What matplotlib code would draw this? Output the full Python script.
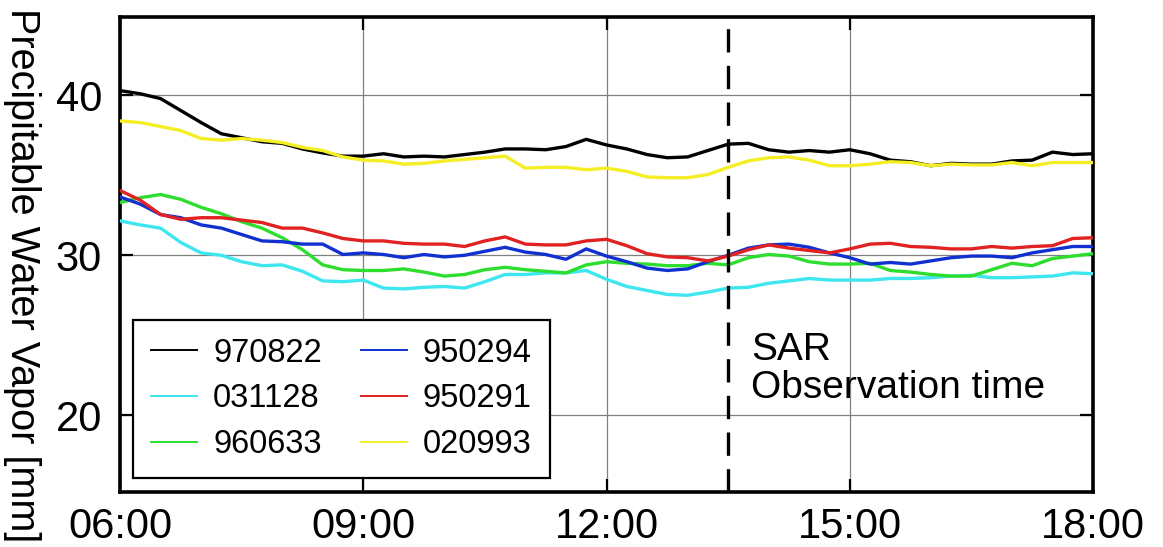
import numpy as np
import matplotlib
matplotlib.use('Agg')
import matplotlib.pyplot as plt

plt.rcParams['font.family'] = ['Liberation Sans', 'DejaVu Sans']

# time axis: 06:00 .. 18:00 every 15 minutes (hours)
hours = np.arange(6.0, 18.01, 0.25)

pwv_970822 = [40.3, 40.1, 39.8, 39.05, 38.3, 37.6, 37.35, 37.1, 37.0, 36.65, 36.4, 36.2, 36.2,
              36.35, 36.15, 36.2, 36.15, 36.3, 36.45, 36.65, 36.65, 36.6, 36.8, 37.25, 36.9,
              36.65, 36.3, 36.1, 36.15, 36.55, 36.95, 37.0, 36.6, 36.45, 36.55, 36.45, 36.6,
              36.35, 35.95, 35.85, 35.6, 35.75, 35.7, 35.7, 35.9, 35.95, 36.45, 36.3, 36.35]
pwv_031128 = [32.15, 31.9, 31.7, 30.8, 30.15, 30.0, 29.6, 29.35, 29.4, 29.0, 28.4, 28.35, 28.45,
              27.95, 27.9, 28.0, 28.05, 27.95, 28.35, 28.8, 28.8, 28.9, 28.9, 29.05, 28.5,
              28.05, 27.8, 27.55, 27.5, 27.7, 27.95, 28.0, 28.25, 28.4, 28.55, 28.45, 28.45,
              28.45, 28.55, 28.55, 28.6, 28.7, 28.75, 28.6, 28.6, 28.65, 28.7, 28.9, 28.85]
pwv_960633 = [33.3, 33.6, 33.8, 33.5, 33.0, 32.6, 32.1, 31.7, 31.1, 30.35, 29.4, 29.1, 29.05,
              29.05, 29.15, 28.95, 28.7, 28.8, 29.1, 29.25, 29.1, 29.0, 28.9, 29.4, 29.6,
              29.5, 29.45, 29.35, 29.35, 29.5, 29.4, 29.85, 30.05, 29.95, 29.6, 29.45, 29.45,
              29.5, 29.05, 28.95, 28.8, 28.7, 28.7, 29.1, 29.5, 29.35, 29.8, 29.95, 30.1]
pwv_950294 = [33.65, 33.2, 32.55, 32.35, 31.9, 31.7, 31.3, 30.9, 30.85, 30.7, 30.7, 30.05, 30.15,
              30.05, 29.85, 30.05, 29.9, 30.0, 30.25, 30.5, 30.2, 30.05, 29.75, 30.4, 29.95,
              29.6, 29.2, 29.05, 29.15, 29.6, 30.0, 30.45, 30.65, 30.7, 30.5, 30.15, 29.85,
              29.45, 29.55, 29.45, 29.65, 29.85, 29.95, 29.95, 29.85, 30.15, 30.35, 30.55, 30.55]
pwv_950291 = [34.05, 33.45, 32.55, 32.25, 32.35, 32.35, 32.2, 32.05, 31.7, 31.7, 31.4, 31.05, 30.9,
              30.9, 30.75, 30.7, 30.7, 30.55, 30.9, 31.15, 30.7, 30.65, 30.65, 30.9, 31.0,
              30.6, 30.1, 29.9, 29.85, 29.65, 29.95, 30.35, 30.65, 30.45, 30.3, 30.15, 30.4,
              30.7, 30.75, 30.55, 30.5, 30.4, 30.4, 30.55, 30.45, 30.55, 30.6, 31.05, 31.1]
pwv_020993 = [38.4, 38.3, 38.05, 37.8, 37.3, 37.2, 37.3, 37.2, 37.05, 36.75, 36.55, 36.15, 35.95,
              35.9, 35.7, 35.75, 35.9, 36.0, 36.1, 36.2, 35.45, 35.5, 35.5, 35.35, 35.45,
              35.25, 34.9, 34.85, 34.85, 35.05, 35.5, 35.9, 36.1, 36.15, 35.95, 35.6, 35.6,
              35.7, 35.85, 35.8, 35.6, 35.7, 35.65, 35.65, 35.8, 35.6, 35.8, 35.8, 35.8]

# legend fills column-wise: left column first
stations = ['970822', '031128', '960633', '950294', '950291', '020993']
series = [pwv_970822, pwv_031128, pwv_960633, pwv_950294, pwv_950291, pwv_020993]
colors = ['#000000', '#3ee6f0', '#2ede2e', '#1030d0', '#e02222', '#f5ee25']

sar_time = 13.5
xtick_hours = [6, 9, 12, 15, 18]
xtick_labels = ['06:00', '09:00', '12:00', '15:00', '18:00']
ytick_vals = [20, 30, 40]

fig = plt.figure(figsize=(11.63, 5.47), dpi=100)
ax = fig.add_axes([120 / 1163, 55 / 547, 973 / 1163, 475 / 547])

for name, vals, c in zip(stations, series, colors):
    ax.plot(hours, vals, color=c, lw=2.4, label=name, zorder=3)

ax.axvline(sar_time, color='black', lw=2.4, dashes=(7, 4), zorder=4)
ax.text(sar_time + 0.28, 22.9, 'SAR\nObservation time', fontsize=28,
        va='center', ha='left', linespacing=1.05)

ax.set_xlim(6, 18)
ax.set_ylim(15.2, 44.9)
ax.set_xticks(xtick_hours)
ax.set_xticklabels(xtick_labels)
ax.set_yticks(ytick_vals)
ax.grid(True, color='#808080', lw=0.9, zorder=1)

ax.tick_params(direction='in', length=9.5, width=1.6, top=True, right=True,
               labelsize=30)
ax.tick_params(axis='x', pad=11)
ax.tick_params(axis='y', pad=13)
for sp in ax.spines.values():
    sp.set_linewidth(2.6)

fig.text(22 / 1163, 0.497, 'Precipitable Water Vapor [mm]', rotation=270,
         fontsize=28.5, ha='center', va='center')

leg = ax.legend(ncol=2, loc='lower left', bbox_to_anchor=(0.0134, 0.0295),
                borderaxespad=0, fontsize=23.5, fancybox=False, edgecolor='black',
                framealpha=1, handlelength=1.4, handletextpad=0.5,
                columnspacing=1.2, labelspacing=0.45, borderpad=0.55)
leg.get_frame().set_linewidth(1.6)
for line in leg.get_lines():
    line.set_linewidth(1.4)

plt.savefig('out.png', dpi=100)
